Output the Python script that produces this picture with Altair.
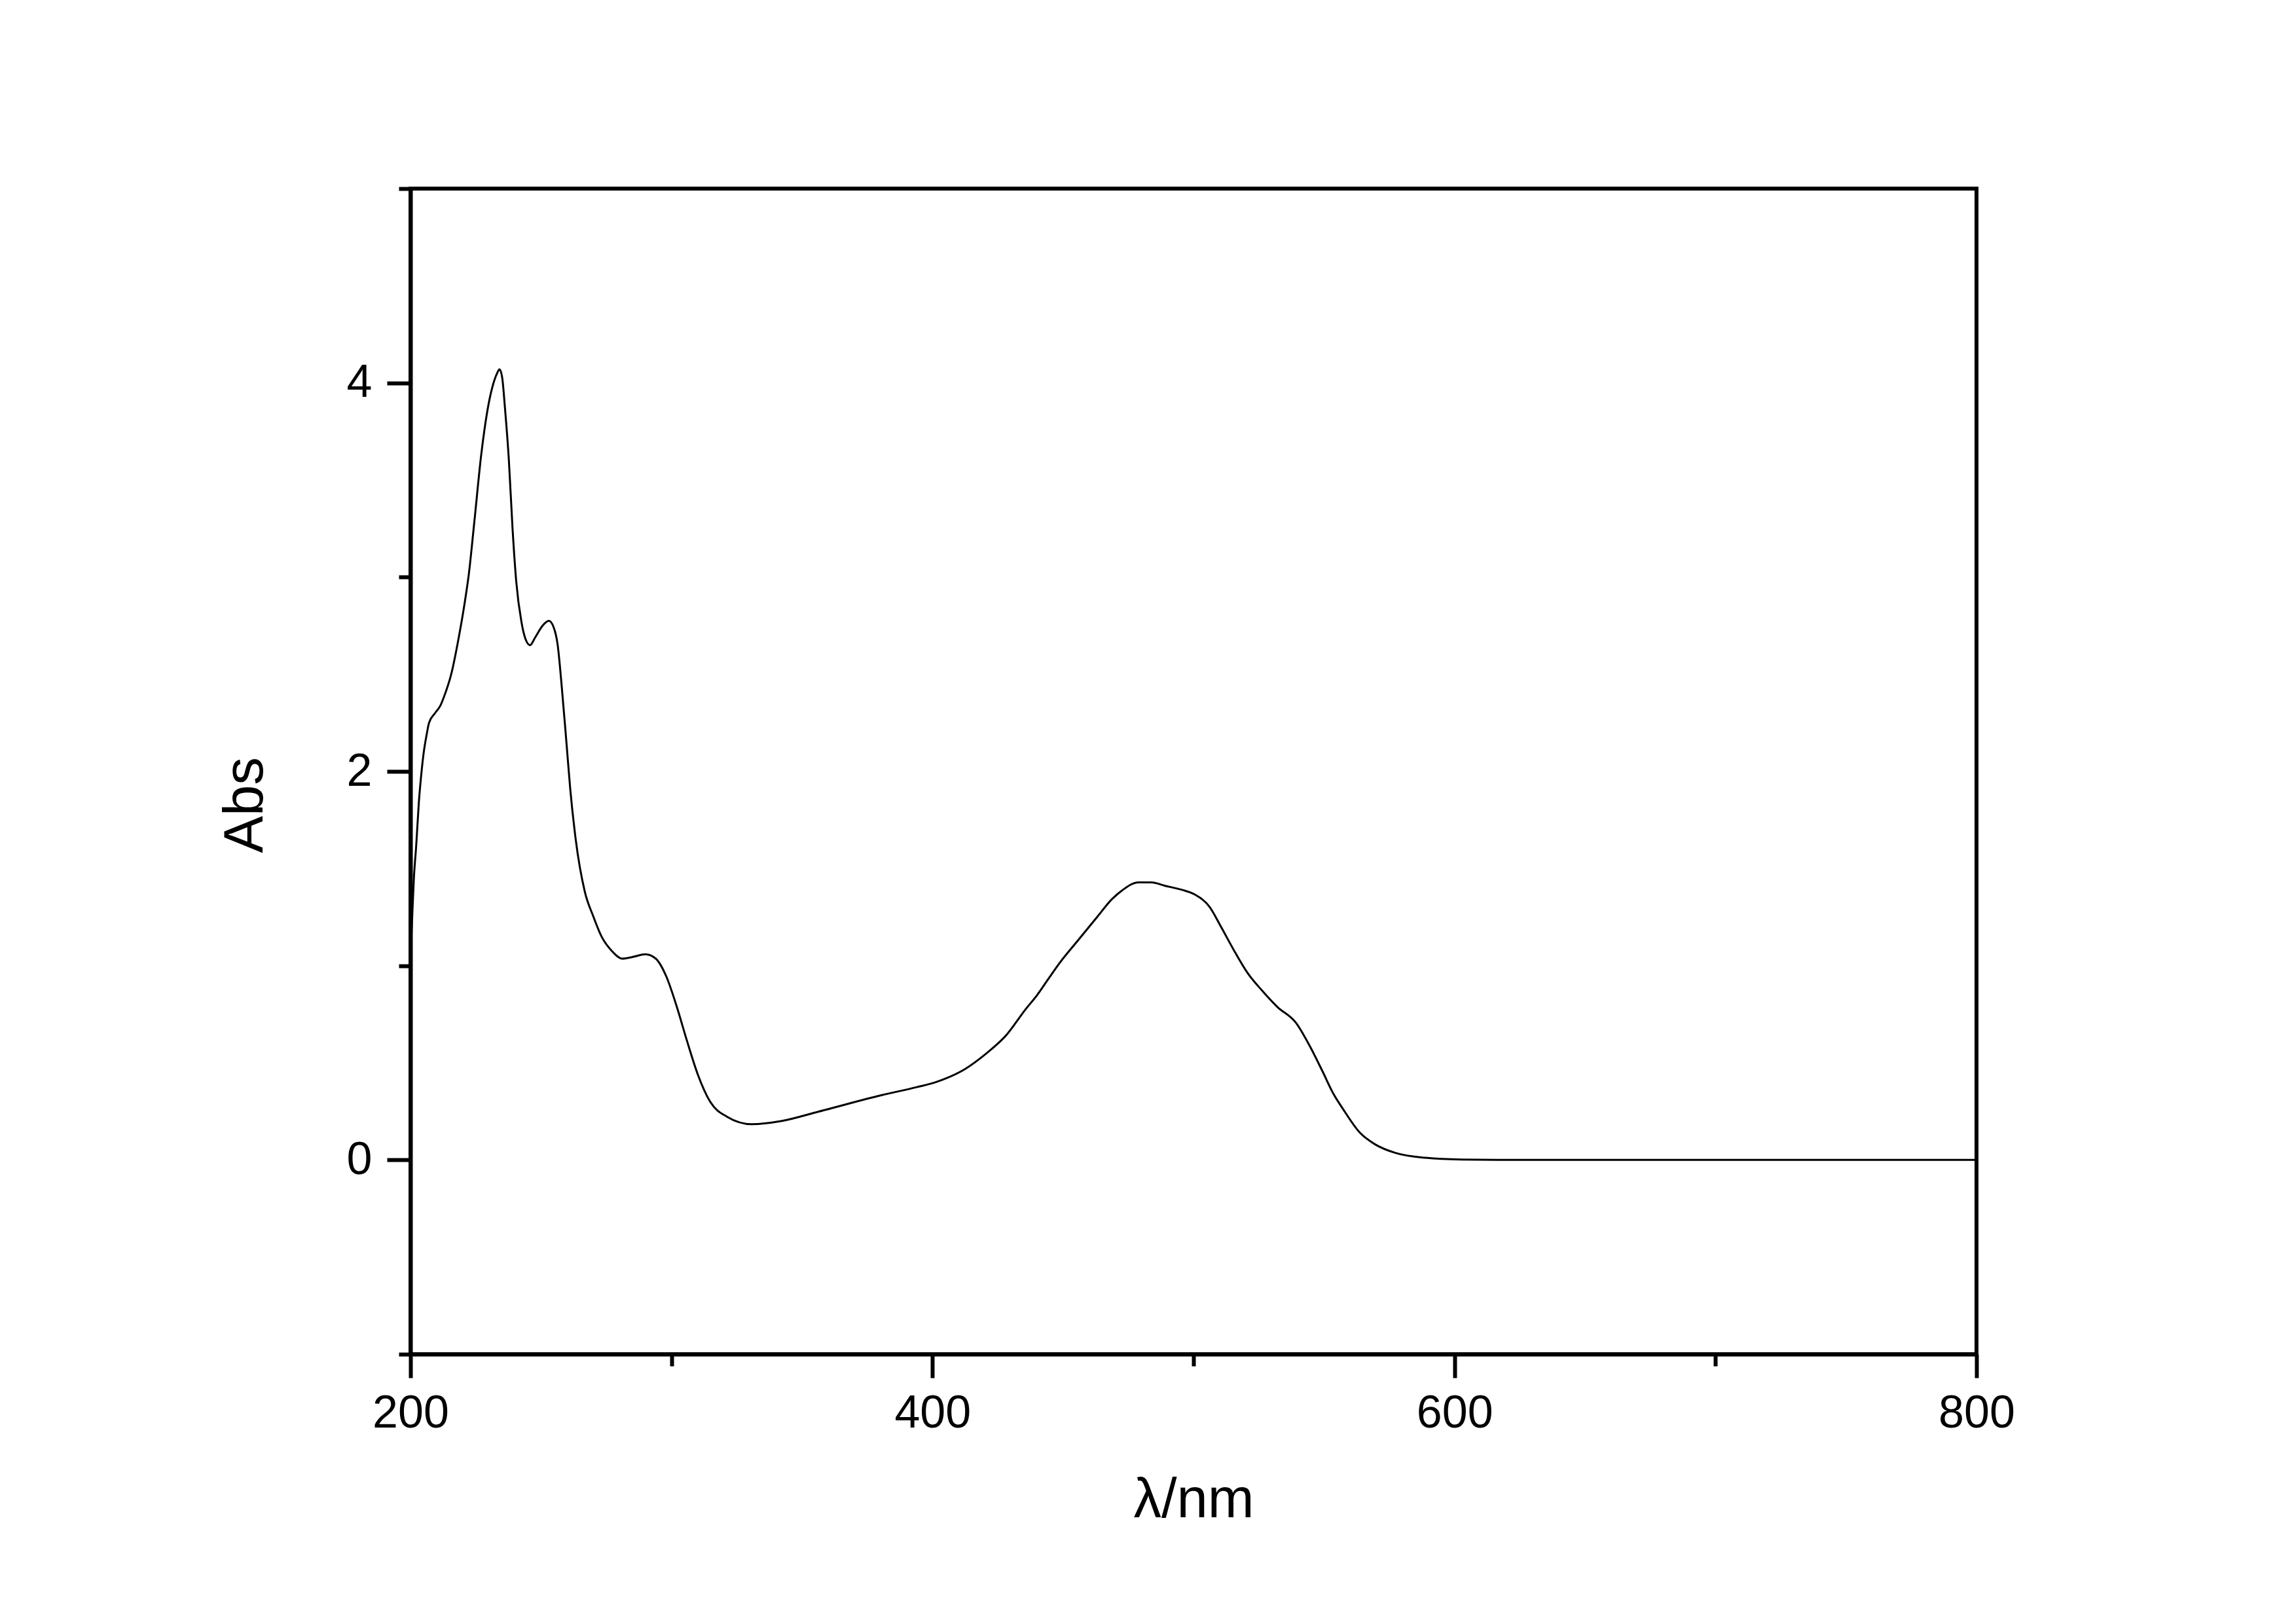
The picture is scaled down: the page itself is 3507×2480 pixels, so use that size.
import altair as alt
import pandas as pd

# wavelength (nm) and absorbance
wavelength = [200.0, 200.5, 201.3, 202.2, 203.2, 204.1, 205.0, 206.2, 207.1, 209.4,
              211.5, 213.0, 215.6, 218.5, 220.9, 222.3, 224.5, 227.1, 229.5, 231.4,
              233.2, 234.1, 235.1, 236.2, 237.7, 239.1, 240.5, 242.5, 244.1, 245.8,
              247.8, 250.6, 253.0, 254.9, 256.4, 257.8, 259.8, 261.2, 263.3, 266.8,
              270.0, 273.2, 277.2, 281.2, 285.2, 290.0, 294.0, 298.0, 302.0, 306.0,
              310.0, 314.8, 321.2, 330.8, 342.0, 356.4, 380.4, 394.0, 401.2, 405.4,
              412.6, 419.8, 428.5, 435.7, 440.0, 444.3, 448.6, 455.8, 463.0, 468.8,
              472.4, 478.9, 483.9, 488.9, 495.4, 500.4, 506.2, 510.5, 516.3, 520.6,
              526.4, 532.1, 539.3, 544.4, 549.4, 553.7, 557.0, 563.7, 569.6, 577.4,
              589.0, 603.0, 620.0, 700.0, 800.0]
absorbance = [1.05, 1.20, 1.45, 1.62, 1.84, 1.98, 2.09, 2.19, 2.25, 2.30,
              2.34, 2.39, 2.50, 2.69, 2.88, 3.01, 3.29, 3.63, 3.86, 3.98,
              4.05, 4.07, 4.03, 3.87, 3.60, 3.25, 2.98, 2.77, 2.68, 2.65,
              2.69, 2.75, 2.775, 2.74, 2.65, 2.46, 2.14, 1.91, 1.65, 1.38,
              1.255, 1.15, 1.075, 1.036, 1.045, 1.059, 1.036, 0.945, 0.79, 0.61,
              0.443, 0.30, 0.223, 0.184, 0.20, 0.249, 0.333, 0.375, 0.40, 0.421,
              0.469, 0.539, 0.646, 0.776, 0.847, 0.93, 1.012, 1.131, 1.249, 1.343,
              1.385, 1.429, 1.429, 1.412, 1.391, 1.367, 1.302, 1.201, 1.06, 0.965,
              0.87, 0.788, 0.705, 0.59, 0.457, 0.338, 0.268, 0.141, 0.08, 0.036,
              0.011, 0.002, 0.0, 0.0, 0.0]

x_ticks = [200, 300, 400, 500, 600, 700, 800]
y_ticks = [-1, 0, 1, 2, 3, 4, 5]

df = pd.DataFrame({"wl": wavelength, "abs": absorbance})

FONT = "Liberation Sans"

chart = alt.Chart(df).mark_line(
    color="black", strokeWidth=3, interpolate="monotone", clip=True
).encode(
    x=alt.X(
        "wl:Q",
        scale=alt.Scale(domain=[200, 800], nice=False, zero=False),
        axis=alt.Axis(
            title="λ/nm",
            values=x_ticks,
            labelExpr="datum.value % 200 === 0 ? datum.label : ''",
            tickSize={"condition": {"test": "datum.value % 200 === 0", "value": 36}, "value": 18},
            labelPadding=20,
            labelFontSize=70,
            titleFontSize=85,
            titleFontWeight="normal",
            titleY=248,
            titleBaseline="alphabetic",
            labelOverlap=False,
            labelFlush=False,
        ),
    ),
    y=alt.Y(
        "abs:Q",
        scale=alt.Scale(domain=[-1, 5], nice=False, zero=False),
        axis=alt.Axis(
            title="Abs",
            values=y_ticks,
            labelExpr="datum.value % 2 === 0 ? datum.label : ''",
            tickSize={"condition": {"test": "datum.value % 2 === 0", "value": 36}, "value": 18},
            labelPadding=23,
            labelFontSize=70,
            titleFontSize=85,
            titleFontWeight="normal",
            titleAngle=270,
            titleAlign="center",
            titleBaseline="alphabetic",
            titleX=-227,
            titleY=941,
            labelOverlap=False,
            labelFlush=False,
        ),
    ),
).properties(
    width=2392,
    height=1780,
    autosize=alt.AutoSizeParams(type="none"),
    padding={"left": 619, "top": 280, "right": 470, "bottom": 400},
    background="white",
).configure_view(
    stroke="black",
    strokeWidth=6,
).configure_axis(
    grid=False,
    domainColor="black",
    domainWidth=6,
    tickColor="black",
    tickWidth=6,
    labelColor="black",
    titleColor="black",
    labelFont=FONT,
    titleFont=FONT,
)

chart.save("out.html", embed_options={"renderer": "svg", "actions": False})
